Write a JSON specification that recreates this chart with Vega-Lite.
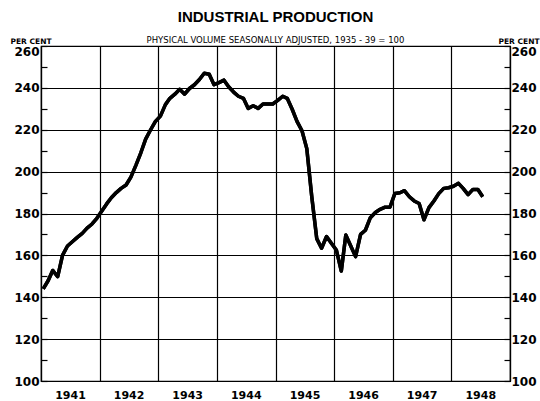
{
  "$schema": "https://vega.github.io/schema/vega-lite/v6.json",
  "width": 469,
  "height": 335,
  "autosize": "none",
  "padding": {"left": 41, "top": 46, "right": 30, "bottom": 20},
  "background": "white",
  "title": {
    "text": "INDUSTRIAL PRODUCTION",
    "subtitle": "PHYSICAL VOLUME SEASONALLY ADJUSTED, 1935 - 39 = 100",
    "font": "Liberation Sans",
    "fontSize": 15,
    "fontWeight": "bold",
    "color": "black",
    "subtitleFont": "DejaVu Sans",
    "subtitleFontSize": 8.5,
    "subtitleColor": "black",
    "subtitlePadding": 11,
    "offset": -7,
    "anchor": "middle"
  },
  "config": {"view": {"stroke": "black", "strokeWidth": 1.2}},
  "data": {
    "values": [
      {"date": "1941-01-15", "index": 144},
      {"date": "1941-02-15", "index": 148},
      {"date": "1941-03-15", "index": 152.8},
      {"date": "1941-04-15", "index": 149.8},
      {"date": "1941-05-15", "index": 160},
      {"date": "1941-06-15", "index": 164.5},
      {"date": "1941-07-15", "index": 166.5},
      {"date": "1941-08-15", "index": 168.6},
      {"date": "1941-09-15", "index": 170.5},
      {"date": "1941-10-15", "index": 173},
      {"date": "1941-11-15", "index": 175},
      {"date": "1941-12-15", "index": 177.7},
      {"date": "1942-01-15", "index": 181.2},
      {"date": "1942-02-15", "index": 184.7},
      {"date": "1942-03-15", "index": 187.5},
      {"date": "1942-04-15", "index": 190},
      {"date": "1942-05-15", "index": 192},
      {"date": "1942-06-15", "index": 193.6},
      {"date": "1942-07-15", "index": 197.4},
      {"date": "1942-08-15", "index": 203},
      {"date": "1942-09-15", "index": 209},
      {"date": "1942-10-15", "index": 215.5},
      {"date": "1942-11-15", "index": 220},
      {"date": "1942-12-15", "index": 224},
      {"date": "1943-01-15", "index": 226.5},
      {"date": "1943-02-15", "index": 232},
      {"date": "1943-03-15", "index": 235},
      {"date": "1943-04-15", "index": 237},
      {"date": "1943-05-15", "index": 239.3},
      {"date": "1943-06-15", "index": 237},
      {"date": "1943-07-15", "index": 239.7},
      {"date": "1943-08-15", "index": 241.5},
      {"date": "1943-09-15", "index": 244},
      {"date": "1943-10-15", "index": 247},
      {"date": "1943-11-15", "index": 246.5},
      {"date": "1943-12-15", "index": 241.5},
      {"date": "1944-01-15", "index": 242.5},
      {"date": "1944-02-15", "index": 243.7},
      {"date": "1944-03-15", "index": 240.5},
      {"date": "1944-04-15", "index": 238},
      {"date": "1944-05-15", "index": 236},
      {"date": "1944-06-15", "index": 235},
      {"date": "1944-07-15", "index": 230.2},
      {"date": "1944-08-15", "index": 231.5},
      {"date": "1944-09-15", "index": 230.2},
      {"date": "1944-10-15", "index": 232.3},
      {"date": "1944-11-15", "index": 232.3},
      {"date": "1944-12-15", "index": 232.3},
      {"date": "1945-01-15", "index": 234},
      {"date": "1945-02-15", "index": 236},
      {"date": "1945-03-15", "index": 235},
      {"date": "1945-04-15", "index": 229.8},
      {"date": "1945-05-15", "index": 224},
      {"date": "1945-06-15", "index": 219.5},
      {"date": "1945-07-15", "index": 211},
      {"date": "1945-08-15", "index": 188},
      {"date": "1945-09-15", "index": 168},
      {"date": "1945-10-15", "index": 163.4},
      {"date": "1945-11-15", "index": 169},
      {"date": "1945-12-15", "index": 165.8},
      {"date": "1946-01-15", "index": 162.6},
      {"date": "1946-02-15", "index": 152.5},
      {"date": "1946-03-15", "index": 169.7},
      {"date": "1946-04-15", "index": 164.5},
      {"date": "1946-05-15", "index": 159.4},
      {"date": "1946-06-15", "index": 170},
      {"date": "1946-07-15", "index": 172},
      {"date": "1946-08-15", "index": 178},
      {"date": "1946-09-15", "index": 180.5},
      {"date": "1946-10-15", "index": 182},
      {"date": "1946-11-15", "index": 183},
      {"date": "1946-12-15", "index": 183},
      {"date": "1947-01-15", "index": 189.6},
      {"date": "1947-02-15", "index": 189.9},
      {"date": "1947-03-15", "index": 190.9},
      {"date": "1947-04-15", "index": 188},
      {"date": "1947-05-15", "index": 186},
      {"date": "1947-06-15", "index": 184.8},
      {"date": "1947-07-15", "index": 177},
      {"date": "1947-08-15", "index": 182.8},
      {"date": "1947-09-15", "index": 186},
      {"date": "1947-10-15", "index": 189.5},
      {"date": "1947-11-15", "index": 192},
      {"date": "1947-12-15", "index": 192.3},
      {"date": "1948-01-15", "index": 193},
      {"date": "1948-02-15", "index": 194.4},
      {"date": "1948-03-15", "index": 192},
      {"date": "1948-04-15", "index": 189},
      {"date": "1948-05-15", "index": 191.5},
      {"date": "1948-06-15", "index": 191.5},
      {"date": "1948-07-15", "index": 188}
    ]
  },
  "encoding": {
    "x": {
      "field": "date",
      "type": "temporal",
      "scale": {
        "type": "utc",
        "domain": [
          {"year": 1941, "month": 1, "date": 1, "utc": true},
          {"year": 1949, "month": 1, "date": 1, "utc": true}
        ]
      },
      "axis": {
        "orient": "bottom",
        "values": [
          {"year": 1941, "month": 1, "date": 1, "utc": true},
          {"year": 1942, "month": 1, "date": 1, "utc": true},
          {"year": 1943, "month": 1, "date": 1, "utc": true},
          {"year": 1944, "month": 1, "date": 1, "utc": true},
          {"year": 1945, "month": 1, "date": 1, "utc": true},
          {"year": 1946, "month": 1, "date": 1, "utc": true},
          {"year": 1947, "month": 1, "date": 1, "utc": true},
          {"year": 1948, "month": 1, "date": 1, "utc": true},
          {"year": 1949, "month": 1, "date": 1, "utc": true}
        ],
        "grid": true,
        "gridColor": "black",
        "gridWidth": 1.2,
        "ticks": false,
        "tickSize": 0,
        "domain": true,
        "domainColor": "black",
        "domainWidth": 1.2,
        "labelExpr": "utcyear(datum.value) > 1948 ? '' : utcFormat(datum.value, '%Y')",
        "labelOffset": 29,
        "labelPadding": 8,
        "labelFlush": false,
        "labelOverlap": false,
        "labelFont": "DejaVu Sans",
        "labelFontSize": 11,
        "labelFontWeight": "bold",
        "labelColor": "black",
        "title": null
      }
    }
  },
  "layer": [
    {
      "mark": {"type": "line", "color": "black", "strokeWidth": 3.5, "strokeJoin": "round"},
      "encoding": {
        "y": {
          "field": "index",
          "type": "quantitative",
          "scale": {"domain": [100, 260], "nice": false, "zero": false},
          "axis": {
            "orient": "left",
            "values": [100, 110, 120, 130, 140, 150, 160, 170, 180, 190, 200, 210, 220, 230, 240, 250, 260],
            "grid": true,
            "gridColor": "black",
            "gridWidth": 1.2,
            "gridOpacity": {"condition": {"test": "datum.value % 20 == 0", "value": 1}, "value": 0},
            "tickSize": -6,
            "tickColor": "black",
            "tickWidth": 1.2,
            "domainColor": "black",
            "domainWidth": 1.2,
            "labelExpr": "datum.value % 20 == 0 ? datum.label : ''",
            "labelBaseline": {"condition": {"test": "datum.value == 260", "value": "top"}, "value": "middle"},
            "labelPadding": 8,
            "labelOverlap": false,
            "labelFont": "DejaVu Sans",
            "labelFontSize": 12,
            "labelFontWeight": "bold",
            "labelColor": "black",
            "title": "PER CENT",
            "titleAngle": 0,
            "titleAlign": "left",
            "titleBaseline": "alphabetic",
            "titleX": -31,
            "titleY": -3,
            "titleFont": "DejaVu Sans",
            "titleFontSize": 7.5,
            "titleFontWeight": "bold",
            "titleColor": "black"
          }
        }
      }
    },
    {
      "mark": {"type": "line", "color": "black", "strokeWidth": 3.5, "strokeJoin": "round"},
      "encoding": {
        "y": {
          "field": "index",
          "type": "quantitative",
          "scale": {"domain": [100, 260], "nice": false, "zero": false},
          "axis": {
            "orient": "right",
            "values": [100, 110, 120, 130, 140, 150, 160, 170, 180, 190, 200, 210, 220, 230, 240, 250, 260],
            "grid": false,
            "tickSize": -6,
            "tickColor": "black",
            "tickWidth": 1.2,
            "domainColor": "black",
            "domainWidth": 1.2,
            "labelExpr": "datum.value % 20 == 0 ? datum.label : ''",
            "labelBaseline": {"condition": {"test": "datum.value == 260", "value": "top"}, "value": "middle"},
            "labelPadding": 7,
            "labelOverlap": false,
            "labelFont": "DejaVu Sans",
            "labelFontSize": 12,
            "labelFontWeight": "bold",
            "labelColor": "black",
            "title": "PER CENT",
            "titleAngle": 0,
            "titleAlign": "left",
            "titleBaseline": "alphabetic",
            "titleX": -12,
            "titleY": -3,
            "titleFont": "DejaVu Sans",
            "titleFontSize": 7.5,
            "titleFontWeight": "bold",
            "titleColor": "black"
          }
        }
      }
    }
  ],
  "resolve": {"axis": {"y": "independent"}}
}
